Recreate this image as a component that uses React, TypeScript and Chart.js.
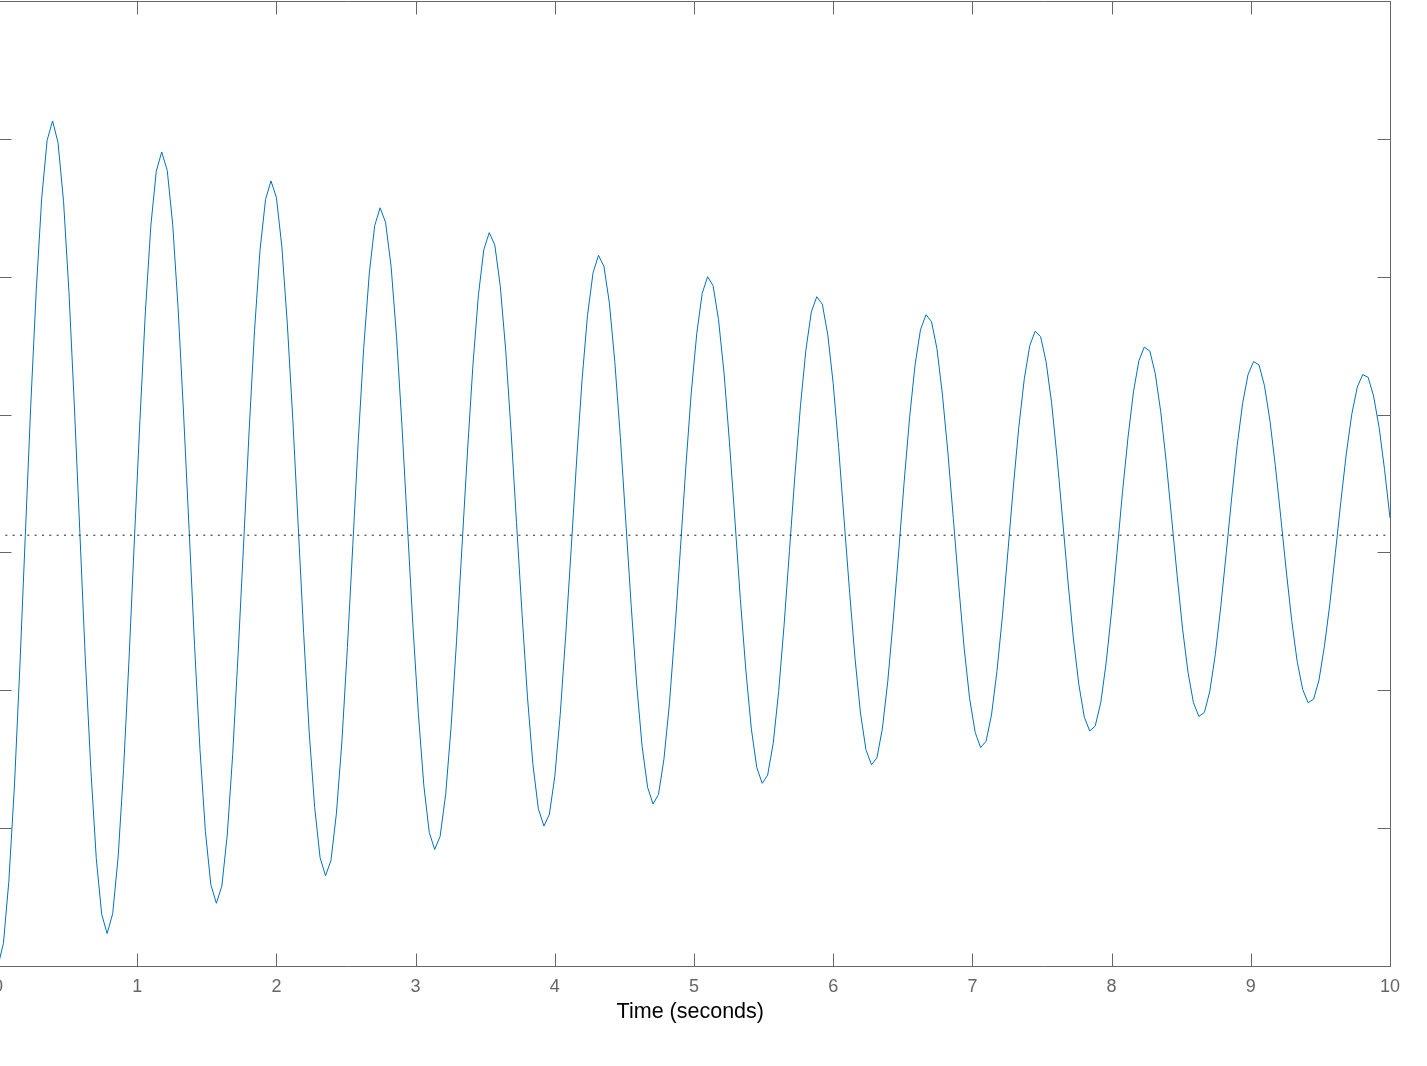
import { useEffect, useRef } from 'react';
import { Chart, registerables } from 'chart.js';

Chart.register(...registerables);

// Sample times (seconds)
const timeSeconds = [
  0, 0.039, 0.078, 0.118, 0.157, 0.196, 0.235, 0.275, 0.314, 0.353,
  0.392, 0.431, 0.471, 0.510, 0.549, 0.588, 0.627, 0.667, 0.706, 0.745,
  0.784, 0.824, 0.863, 0.902, 0.941, 0.980, 1.020, 1.059, 1.098, 1.137,
  1.176, 1.216, 1.255, 1.294, 1.333, 1.373, 1.412, 1.451, 1.490, 1.529,
  1.569, 1.608, 1.647, 1.686, 1.725, 1.765, 1.804, 1.843, 1.882, 1.922,
  1.961,
  2.000, 2.039, 2.078, 2.118, 2.157, 2.196, 2.235, 2.275, 2.314, 2.353,
  2.392, 2.431, 2.471, 2.510, 2.549, 2.588, 2.627, 2.667, 2.706, 2.745,
  2.784, 2.824, 2.863, 2.902, 2.941, 2.980, 3.020, 3.059, 3.098, 3.137,
  3.176, 3.216, 3.255, 3.294, 3.333, 3.373, 3.412, 3.451, 3.490, 3.529,
  3.569, 3.608, 3.647, 3.686, 3.725, 3.765, 3.804, 3.843, 3.882, 3.922,
  3.961,
  4.000, 4.039, 4.078, 4.118, 4.157, 4.196, 4.235, 4.275, 4.314, 4.353,
  4.392, 4.431, 4.471, 4.510, 4.549, 4.588, 4.627, 4.667, 4.706, 4.745,
  4.784, 4.824, 4.863, 4.902, 4.941, 4.980, 5.020, 5.059, 5.098, 5.137,
  5.176, 5.216, 5.255, 5.294, 5.333, 5.373, 5.412, 5.451, 5.490, 5.529,
  5.569, 5.608, 5.647, 5.686, 5.725, 5.765, 5.804, 5.843, 5.882, 5.922,
  5.961,
  6.000, 6.039, 6.078, 6.118, 6.157, 6.196, 6.235, 6.275, 6.314, 6.353,
  6.392, 6.431, 6.471, 6.510, 6.549, 6.588, 6.627, 6.667, 6.706, 6.745,
  6.784, 6.824, 6.863, 6.902, 6.941, 6.980, 7.020, 7.059, 7.098, 7.137,
  7.176, 7.216, 7.255, 7.294, 7.333, 7.373, 7.412, 7.451, 7.490, 7.529,
  7.569, 7.608, 7.647, 7.686, 7.725, 7.765, 7.804, 7.843, 7.882, 7.922,
  7.961,
  8.000, 8.039, 8.078, 8.118, 8.157, 8.196, 8.235, 8.275, 8.314, 8.353,
  8.392, 8.431, 8.471, 8.510, 8.549, 8.588, 8.627, 8.667, 8.706, 8.745,
  8.784, 8.824, 8.863, 8.902, 8.941, 8.980, 9.020, 9.059, 9.098, 9.137,
  9.176, 9.216, 9.255, 9.294, 9.333, 9.373, 9.412, 9.451, 9.490, 9.529,
  9.569, 9.608, 9.647, 9.686, 9.725, 9.765, 9.804, 9.843, 9.882, 9.922,
  9.961,
  10.000,
];

// Response values
const response = [
  0.0000, 0.0033, 0.0123, 0.0261, 0.0434, 0.0624, 0.0812, 0.0981, 0.1114, 0.1198,
  0.1226, 0.1195, 0.1109, 0.0977, 0.0811, 0.0629, 0.0447, 0.0285, 0.0156, 0.0075,
  0.0047, 0.0076, 0.0158, 0.0285, 0.0444, 0.0619, 0.0793, 0.0950, 0.1074, 0.1153,
  0.1181, 0.1154, 0.1076, 0.0954, 0.0802, 0.0633, 0.0465, 0.0314, 0.0195, 0.0118,
  0.0091, 0.0116, 0.0190, 0.0307, 0.0453, 0.0615, 0.0776, 0.0922, 0.1038, 0.1112,
  0.1139, 0.1115, 0.1044, 0.0933, 0.0793, 0.0637, 0.0482, 0.0341, 0.0230, 0.0157,
  0.0131, 0.0153, 0.0221, 0.0327, 0.0462, 0.0611, 0.0761, 0.0896, 0.1004, 0.1074,
  0.1100, 0.1079, 0.1015, 0.0913, 0.0784, 0.0640, 0.0496, 0.0366, 0.0262, 0.0194,
  0.0169, 0.0188, 0.0249, 0.0347, 0.0471, 0.0608, 0.0747, 0.0872, 0.0973, 0.1039,
  0.1064, 0.1046, 0.0987, 0.0894, 0.0775, 0.0643, 0.0510, 0.0389, 0.0292, 0.0228,
  0.0203, 0.0220, 0.0275, 0.0365, 0.0479, 0.0606, 0.0734, 0.0851, 0.0944, 0.1006,
  0.1031, 0.1015, 0.0962, 0.0877, 0.0767, 0.0645, 0.0522, 0.0409, 0.0319, 0.0259,
  0.0235, 0.0249, 0.0300, 0.0382, 0.0487, 0.0604, 0.0723, 0.0831, 0.0918, 0.0976,
  0.1000, 0.0987, 0.0938, 0.0860, 0.0759, 0.0647, 0.0532, 0.0428, 0.0344, 0.0288,
  0.0265, 0.0277, 0.0323, 0.0398, 0.0494, 0.0603, 0.0712, 0.0813, 0.0894, 0.0949,
  0.0971, 0.0960, 0.0916, 0.0845, 0.0752, 0.0648, 0.0542, 0.0446, 0.0367, 0.0314,
  0.0292, 0.0302, 0.0344, 0.0413, 0.0502, 0.0602, 0.0703, 0.0796, 0.0872, 0.0923,
  0.0945, 0.0935, 0.0896, 0.0830, 0.0745, 0.0649, 0.0551, 0.0461, 0.0388, 0.0339,
  0.0317, 0.0326, 0.0364, 0.0427, 0.0508, 0.0601, 0.0695, 0.0781, 0.0852, 0.0900,
  0.0921, 0.0913, 0.0877, 0.0817, 0.0738, 0.0650, 0.0559, 0.0476, 0.0408, 0.0361,
  0.0341, 0.0348, 0.0382, 0.0440, 0.0515, 0.0600, 0.0687, 0.0767, 0.0833, 0.0878,
  0.0898, 0.0892, 0.0859, 0.0804, 0.0732, 0.0650, 0.0566, 0.0489, 0.0426, 0.0382,
  0.0362, 0.0368, 0.0399, 0.0452, 0.0521, 0.0600, 0.0680, 0.0755, 0.0816, 0.0858,
  0.0877, 0.0872, 0.0842, 0.0792, 0.0726, 0.0650, 0.0573, 0.0501, 0.0442, 0.0401,
  0.0382, 0.0387, 0.0415, 0.0464, 0.0527, 0.0600, 0.0674, 0.0743, 0.0800, 0.0840,
  0.0858, 0.0854, 0.0827, 0.0781, 0.0720, 0.0650,
];

// Dotted reference (equilibrium) line
const equilibriumTime = [0, 10];
const equilibriumLevel = [0.0625, 0.0625];

// Axis ticks
const xTickValues = [0, 1, 2, 3, 4, 5, 6, 7, 8, 9, 10];
const yTickValues = [0, 0.02, 0.04, 0.06, 0.08, 0.1, 0.12, 0.14];
const xAxisTitle = 'Time (seconds)';

const X_MIN = 0;
const X_MAX = 10;
const Y_MIN = 0;
const Y_MAX = 0.14;

const FONT = '"Liberation Sans", Arial, Helvetica, sans-serif';
const AXIS_COLOR = '#666666';
const LINE_COLOR = '#0072BD';
const TICK_LEN = 13;

const CANVAS_W = 1457;
const CANVAS_H = 1066;
const X_SCALE_HEIGHT = 40;
const TITLE_OFFSET_X = -3.7;
const TITLE_BASELINE_BELOW_AXIS = 51.5;

const axesFrame = {
  id: 'axesFrame',
  afterDatasetsDraw(chart: any) {
    const { ctx, chartArea: a, scales } = chart;
    const xs = scales.x;
    const ys = scales.y;
    const L = Math.floor(a.left) + 0.5;
    const R = Math.floor(a.right) + 0.5;
    const T = Math.floor(a.top) + 0.5;
    const B = Math.floor(a.bottom) + 0.5;
    ctx.save();
    ctx.strokeStyle = AXIS_COLOR;
    ctx.lineWidth = 1;
    ctx.setLineDash([]);
    ctx.beginPath();
    ctx.rect(L, T, R - L, B - T);
    for (const v of xTickValues) {
      const px = Math.round(xs.getPixelForValue(v)) + 0.5;
      ctx.moveTo(px, B);
      ctx.lineTo(px, B - TICK_LEN);
      ctx.moveTo(px, T);
      ctx.lineTo(px, T + TICK_LEN);
    }
    for (const v of yTickValues) {
      const py = Math.round(ys.getPixelForValue(v)) + 0.5;
      ctx.moveTo(L, py);
      ctx.lineTo(L + TICK_LEN, py);
      ctx.moveTo(R, py);
      ctx.lineTo(R - TICK_LEN, py);
    }
    ctx.stroke();

    // x-axis label
    ctx.fillStyle = '#000000';
    ctx.font = `21.5px ${FONT}`;
    ctx.textAlign = 'center';
    ctx.textBaseline = 'alphabetic';
    ctx.fillText(xAxisTitle, (a.left + a.right) / 2 + TITLE_OFFSET_X, a.bottom + TITLE_BASELINE_BELOW_AXIS);
    ctx.restore();
  },
};

export default function App() {
  const canvasRef = useRef<HTMLCanvasElement | null>(null);

  useEffect(() => {
    document.documentElement.style.overflow = 'hidden';
    document.body.style.overflow = 'hidden';
    const canvas = canvasRef.current;
    if (!canvas) return;

    const responsePoints = timeSeconds.map((t, i) => ({ x: t, y: response[i] }));
    const equilibriumPoints = equilibriumTime.map((t, i) => ({ x: t, y: equilibriumLevel[i] }));

    const chart = new Chart(canvas, {
      type: 'scatter',
      data: {
        datasets: [
          {
            label: 'equilibrium',
            data: equilibriumPoints,
            showLine: true,
            borderColor: '#1a1a1a',
            borderWidth: 1,
            borderDash: [2, 5.33],
            pointRadius: 0,
            fill: false,
            tension: 0,
          },
          {
            label: 'response',
            data: responsePoints,
            showLine: true,
            borderColor: LINE_COLOR,
            borderWidth: 1,
            pointRadius: 0,
            fill: false,
            tension: 0,
            borderJoinStyle: 'miter',
          },
        ],
      },
      options: {
        animation: false,
        responsive: false,
        maintainAspectRatio: false,
        devicePixelRatio: 1,
        events: [],
        layout: {
          padding: { left: 28, top: 1, right: 37, bottom: CANVAS_H - 966 - X_SCALE_HEIGHT },
        },
        plugins: {
          legend: { display: false },
          tooltip: { enabled: false },
          title: { display: false },
        },
        scales: {
          x: {
            type: 'linear',
            position: 'bottom',
            min: X_MIN,
            max: X_MAX,
            grid: { display: false, drawTicks: false },
            border: { display: false },
            afterBuildTicks: (scale: any) => {
              scale.ticks = xTickValues.map((v) => ({ value: v }));
            },
            afterFit: (scale: any) => {
              scale.height = X_SCALE_HEIGHT;
            },
            ticks: {
              color: AXIS_COLOR,
              font: { family: FONT, size: 18 },
              padding: 10.5,
              maxRotation: 0,
              autoSkip: false,
            },
            title: { display: false },
          },
          y: {
            type: 'linear',
            display: false,
            min: Y_MIN,
            max: Y_MAX,
          },
        },
      },
      plugins: [axesFrame],
    } as any);

    return () => {
      chart.destroy();
    };
  }, []);

  return (
    <div
      style={{
        position: 'absolute',
        left: -30,
        top: 0,
        width: CANVAS_W,
        height: CANVAS_H,
        background: '#ffffff',
      }}
    >
      <canvas
        ref={canvasRef}
        width={CANVAS_W}
        height={CANVAS_H}
        style={{ display: 'block', width: CANVAS_W, height: CANVAS_H }}
      />
    </div>
  );
}
